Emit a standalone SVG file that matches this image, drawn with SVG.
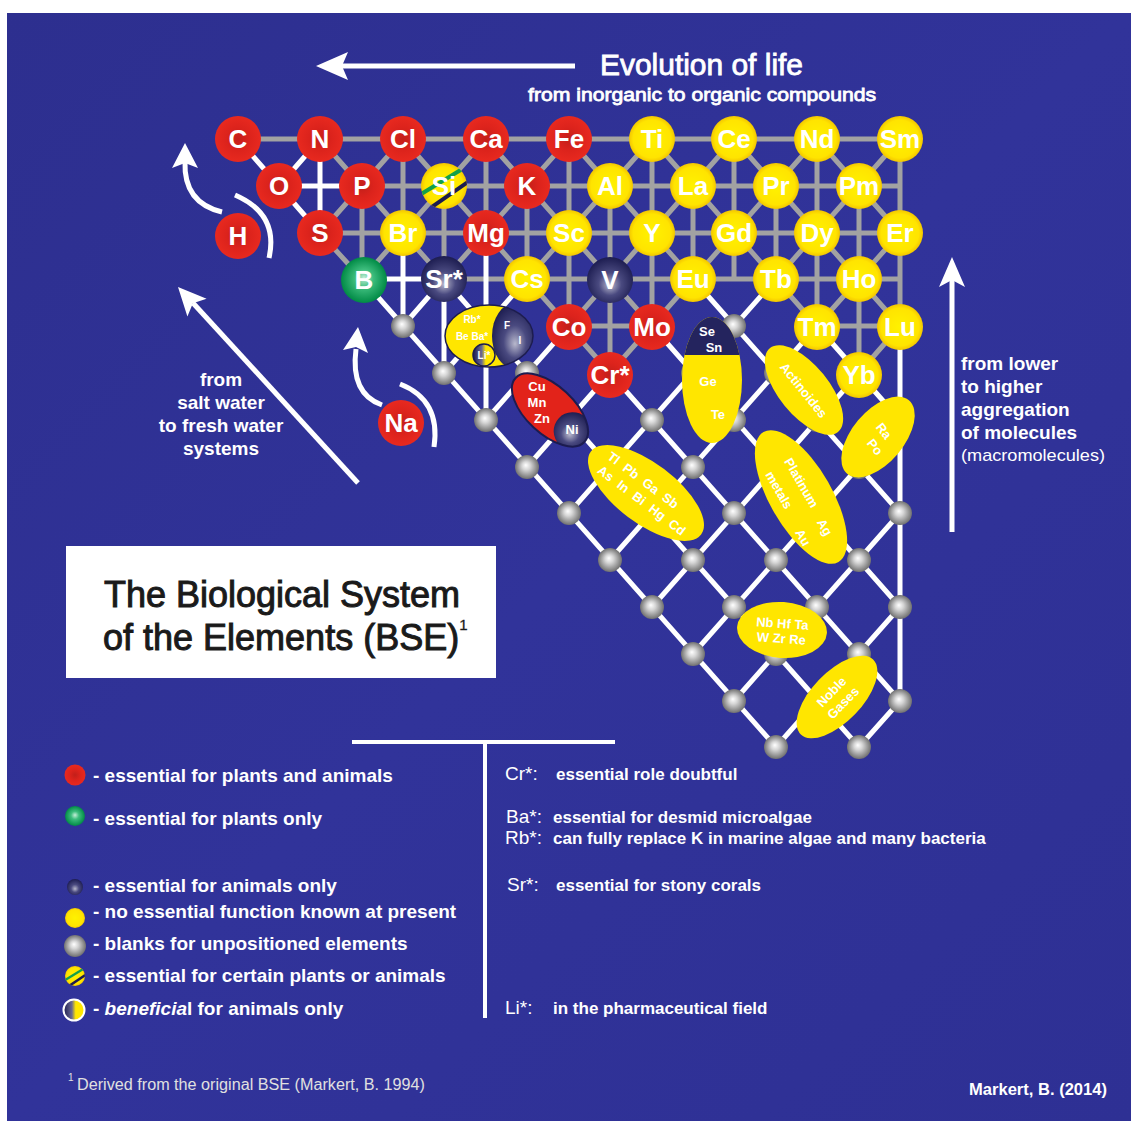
<svg xmlns="http://www.w3.org/2000/svg" width="1138" height="1134" viewBox="0 0 1138 1134">
<defs>
<linearGradient id="gBg" x1="0" y1="0" x2="1" y2="1"><stop offset="0" stop-color="#2d2f8f"/><stop offset="0.5" stop-color="#31339a"/><stop offset="1" stop-color="#2e3094"/></linearGradient>
<radialGradient id="gRed" cx="0.5" cy="0.5" r="0.5"><stop offset="0" stop-color="#c21f1a"/><stop offset="0.5" stop-color="#dc231c"/><stop offset="1" stop-color="#e8291f"/></radialGradient>
<radialGradient id="gYel" cx="0.5" cy="0.5" r="0.5"><stop offset="0" stop-color="#fff200"/><stop offset="0.82" stop-color="#ffe400"/><stop offset="1" stop-color="#f3c600"/></radialGradient>
<radialGradient id="gDark" cx="0.5" cy="0.55" r="0.55" fx="0.5" fy="0.62"><stop offset="0" stop-color="#b8b8cc"/><stop offset="0.45" stop-color="#4a4a80"/><stop offset="1" stop-color="#1c1c50"/></radialGradient>
<radialGradient id="gGreen" cx="0.5" cy="0.5" r="0.5" fx="0.5" fy="0.45"><stop offset="0" stop-color="#c4eed8"/><stop offset="0.4" stop-color="#3dbd7d"/><stop offset="1" stop-color="#008a45"/></radialGradient>
<radialGradient id="gBall" cx="0.5" cy="0.5" r="0.5" fx="0.45" fy="0.42"><stop offset="0" stop-color="#ffffff"/><stop offset="0.35" stop-color="#d6d6d6"/><stop offset="1" stop-color="#707070"/></radialGradient>
<linearGradient id="gBen" x1="0" y1="0" x2="1" y2="0"><stop offset="0" stop-color="#1c1c50"/><stop offset="0.4" stop-color="#6a6a92"/><stop offset="0.58" stop-color="#ffe600"/><stop offset="1" stop-color="#ffe600"/></linearGradient>
<clipPath id="clipSi"><circle cx="444" cy="186" r="23"/></clipPath>
<clipPath id="clipLegSi"><circle cx="75" cy="976" r="10"/></clipPath>
<clipPath id="clipRb"><ellipse cx="489" cy="336" rx="44" ry="31"/></clipPath>
<clipPath id="clipCu"><ellipse cx="0" cy="0" rx="47" ry="24"/></clipPath>
<clipPath id="clipGe"><ellipse cx="712" cy="380" rx="30" ry="63"/></clipPath>
<style>
text{font-family:"Liberation Sans",Arial,sans-serif;fill:#fff}
.ln-g{stroke:#a2a2a2;stroke-width:5;fill:none}
.ln-w{stroke:#fff;stroke-width:5;fill:none}
.el text{font-weight:bold;font-size:26px;text-anchor:middle}
.red circle{fill:url(#gRed)}
.yel circle{fill:url(#gYel)}
.drk circle{fill:url(#gDark)}
.grn circle{fill:url(#gGreen)}
.ball{fill:url(#gBall)}
.yl{fill:#ffe600}
.sm{font-weight:bold;font-size:13px;text-anchor:middle}
.xs{font-weight:bold;font-size:10px;text-anchor:middle}
.side{font-weight:bold;font-size:19px}
.leg{font-weight:bold;font-size:19px}
.note{font-weight:bold;font-size:17px}
.lab{font-size:19px}
.title{font-size:36px;fill:#1a1a1a;stroke:#1a1a1a;stroke-width:1}
.arr{stroke:#fff;stroke-width:5;fill:none}
.head{stroke:#fff;stroke-width:0.8}
</style>
</defs>

<rect width="1138" height="1134" fill="#fff"/>
<rect x="7" y="13" width="1124" height="1108" fill="url(#gBg)"/>

<g id="connectors">
<path class="ln-g" d="M238,139H900M362,186H900M320,233H900M444,279H900M569,326H652M817,326H900"/>
<path class="ln-g" d="M362,186V279M403,139V233M444,186V279M486,139V233M527,186V279M569,139V326M610,186V373M652,139V326M693,186V279M734,139V279M776,186V279M817,139V326M859,186V373M900,139V326"/>
<path class="ln-g" d="M320,233L362,279M320,139L444,279M403,139L610,373M486,139L652,326M569,139L693,279M652,139L817,326M734,139L900,326M817,139L900,233"/>
<path class="ln-g" d="M403,139L320,233M486,139L362,279M569,139L444,279M652,139L527,279M734,139L569,326M817,139L610,373M900,139L776,279M900,233L817,326M900,326L859,373"/>
<path class="ln-w" d="M279,186H362M362,279H444M320,139V233M403,233V326M444,279V373M486,233V420M900,326V701"/>
<path class="ln-w" d="M238,139L320,233M362,279L776,747M444,279L859,747M610,373L900,701M652,326L900,607M693,279L900,513M817,326L900,420"/>
<path class="ln-w" d="M320,139L279,186M444,279L403,326M527,279L444,373M569,326L486,420M610,373L527,467M776,279L569,513M817,326L610,560M859,373L652,607M900,420L693,654M900,513L734,701M900,607L776,747M900,701L859,747"/>
</g>

<g id="blanks">
<circle class="ball" cx="403" cy="326" r="12"/><circle class="ball" cx="486" cy="326" r="12"/><circle class="ball" cx="734" cy="326" r="12"/>
<circle class="ball" cx="444" cy="373" r="12"/><circle class="ball" cx="527" cy="373" r="12"/><circle class="ball" cx="693" cy="373" r="12"/><circle class="ball" cx="776" cy="373" r="12"/>
<circle class="ball" cx="486" cy="420" r="12"/><circle class="ball" cx="569" cy="420" r="12"/><circle class="ball" cx="652" cy="420" r="12"/><circle class="ball" cx="734" cy="420" r="12"/><circle class="ball" cx="817" cy="420" r="12"/><circle class="ball" cx="900" cy="420" r="12"/>
<circle class="ball" cx="527" cy="467" r="12"/><circle class="ball" cx="610" cy="467" r="12"/><circle class="ball" cx="693" cy="467" r="12"/><circle class="ball" cx="776" cy="467" r="12"/><circle class="ball" cx="859" cy="467" r="12"/>
<circle class="ball" cx="569" cy="513" r="12"/><circle class="ball" cx="652" cy="513" r="12"/><circle class="ball" cx="734" cy="513" r="12"/><circle class="ball" cx="817" cy="513" r="12"/><circle class="ball" cx="900" cy="513" r="12"/>
<circle class="ball" cx="610" cy="560" r="12"/><circle class="ball" cx="693" cy="560" r="12"/><circle class="ball" cx="776" cy="560" r="12"/><circle class="ball" cx="859" cy="560" r="12"/>
<circle class="ball" cx="652" cy="607" r="12"/><circle class="ball" cx="734" cy="607" r="12"/><circle class="ball" cx="817" cy="607" r="12"/><circle class="ball" cx="900" cy="607" r="12"/>
<circle class="ball" cx="693" cy="654" r="12"/><circle class="ball" cx="776" cy="654" r="12"/><circle class="ball" cx="859" cy="654" r="12"/>
<circle class="ball" cx="734" cy="701" r="12"/><circle class="ball" cx="817" cy="701" r="12"/><circle class="ball" cx="900" cy="701" r="12"/>
<circle class="ball" cx="776" cy="747" r="12"/><circle class="ball" cx="859" cy="747" r="12"/>
</g>

<g id="grp-RbBeBa">
<ellipse class="yl" cx="489" cy="336" rx="44" ry="31"/>
<g clip-path="url(#clipRb)"><ellipse cx="515" cy="336" rx="23" ry="33" fill="url(#gDark)"/></g>
<ellipse cx="489" cy="336" rx="44" ry="31" fill="none" stroke="#1c1c50" stroke-width="1.5"/>
<circle cx="484" cy="355" r="11" fill="url(#gBen)" stroke="#1c1c50" stroke-width="1.5"/>
<text class="xs" x="472" y="323">Rb*</text><text class="xs" x="472" y="340">Be Ba*</text>
<text class="xs" x="507" y="329">F</text><text class="xs" x="520" y="344">I</text>
<text class="xs" x="484" y="359">Li*</text>
</g>

<g id="grp-CuMnZnNi">
<g transform="translate(550,410) rotate(43)">
<ellipse rx="47" ry="24" fill="#e2231a"/>
<g clip-path="url(#clipCu)"><circle cx="31" cy="0" r="19" fill="url(#gDark)"/></g>
<ellipse rx="47" ry="24" fill="none" stroke="#1c1c50" stroke-width="2"/>
</g>
<text class="sm" x="537" y="391" font-size="12">Cu</text><text class="sm" x="537" y="407">Mn</text><text class="sm" x="542" y="423">Zn</text><text class="sm" x="572" y="434">Ni</text>
</g>

<g id="grp-SeSnGeTe">
<ellipse class="yl" cx="712" cy="380" rx="30" ry="63"/>
<g clip-path="url(#clipGe)"><rect x="680" y="315" width="64" height="40" fill="#24245e"/></g>
<text class="sm" x="707" y="336" font-size="12">Se</text><text class="sm" x="714" y="352">Sn</text>
<text class="sm" x="708" y="386">Ge</text><text class="sm" x="718" y="419">Te</text>
</g>

<g id="grp-Actinoides" transform="translate(804,390) rotate(51)">
<ellipse class="yl" rx="54" ry="25"/>
<text class="sm" x="0" y="5" font-size="14">Actinoides</text>
</g>

<g id="grp-RaPo">
<ellipse class="yl" cx="878" cy="437" rx="48" ry="26" transform="rotate(-50 878 437)"/>
<text class="sm" transform="translate(884,431) rotate(52)" y="4.5">Ra</text>
<text class="sm" transform="translate(875,447) rotate(52)" y="4.5">Po</text>
</g>

<g id="grp-TlPb" transform="translate(646,493) rotate(37)">
<ellipse class="yl" rx="69" ry="30"/>
<text class="sm" x="-10" y="-4" word-spacing="4">Tl Pb Ga Sb</text>
<text class="sm" x="1" y="13" word-spacing="4">As In Bi Hg Cd</text>
</g>

<g id="grp-Platinum" transform="translate(801,497) rotate(60)">
<ellipse class="yl" rx="75" ry="31"/>
<text class="sm" x="-12" y="-3">Platinum</text>
<text class="sm" x="38" y="-1">Ag</text>
<text class="sm" x="-17" y="20">metals</text>
<text class="sm" x="36" y="23">Au</text>
</g>

<g id="grp-NbHf" transform="translate(782,630) rotate(4)">
<ellipse class="yl" rx="45" ry="28"/>
<text class="sm" x="0" y="-2">Nb Hf Ta</text>
<text class="sm" x="0" y="13">W Zr Re</text>
</g>

<g id="grp-Noble" transform="translate(837,697) rotate(-46)">
<ellipse class="yl" rx="52" ry="25"/>
<text class="sm" x="0" y="-3">Noble</text>
<text class="sm" x="0" y="13">Gases</text>
</g>

<g id="elements">
<g id="el-C" class="el red"><circle cx="238" cy="139" r="23"/><text x="238" y="148">C</text></g>
<g id="el-N" class="el red"><circle cx="320" cy="139" r="23"/><text x="320" y="148">N</text></g>
<g id="el-Cl" class="el red"><circle cx="403" cy="139" r="23"/><text x="403" y="148">Cl</text></g>
<g id="el-Ca" class="el red"><circle cx="486" cy="139" r="23"/><text x="486" y="148">Ca</text></g>
<g id="el-Fe" class="el red"><circle cx="569" cy="139" r="23"/><text x="569" y="148">Fe</text></g>
<g id="el-Ti" class="el yel"><circle cx="652" cy="139" r="23"/><text x="652" y="148">Ti</text></g>
<g id="el-Ce" class="el yel"><circle cx="734" cy="139" r="23"/><text x="734" y="148">Ce</text></g>
<g id="el-Nd" class="el yel"><circle cx="817" cy="139" r="23"/><text x="817" y="148">Nd</text></g>
<g id="el-Sm" class="el yel"><circle cx="900" cy="139" r="23"/><text x="900" y="148">Sm</text></g>
<g id="el-O" class="el red"><circle cx="279" cy="186" r="23"/><text x="279" y="195">O</text></g>
<g id="el-P" class="el red"><circle cx="362" cy="186" r="23"/><text x="362" y="195">P</text></g>
<g id="el-Si" class="el yel"><circle cx="444" cy="186" r="23"/>
<g clip-path="url(#clipSi)"><line x1="418" y1="196" x2="472" y2="163" stroke="#13a04a" stroke-width="4"/><line x1="426" y1="211" x2="478" y2="175" stroke="#1c1c50" stroke-width="4"/></g>
<text x="444" y="195">Si</text></g>
<g id="el-K" class="el red"><circle cx="527" cy="186" r="23"/><text x="527" y="195">K</text></g>
<g id="el-Al" class="el yel"><circle cx="610" cy="186" r="23"/><text x="610" y="195">Al</text></g>
<g id="el-La" class="el yel"><circle cx="693" cy="186" r="23"/><text x="693" y="195">La</text></g>
<g id="el-Pr" class="el yel"><circle cx="776" cy="186" r="23"/><text x="776" y="195">Pr</text></g>
<g id="el-Pm" class="el yel"><circle cx="859" cy="186" r="23"/><text x="859" y="195">Pm</text></g>
<g id="el-H" class="el red"><circle cx="238" cy="236" r="23"/><text x="238" y="245">H</text></g>
<g id="el-S" class="el red"><circle cx="320" cy="233" r="23"/><text x="320" y="242">S</text></g>
<g id="el-Br" class="el yel"><circle cx="403" cy="233" r="23"/><text x="403" y="242">Br</text></g>
<g id="el-Mg" class="el red"><circle cx="486" cy="233" r="23"/><text x="486" y="242">Mg</text></g>
<g id="el-Sc" class="el yel"><circle cx="569" cy="233" r="23"/><text x="569" y="242">Sc</text></g>
<g id="el-Y" class="el yel"><circle cx="652" cy="233" r="23"/><text x="652" y="242">Y</text></g>
<g id="el-Gd" class="el yel"><circle cx="734" cy="233" r="23"/><text x="734" y="242">Gd</text></g>
<g id="el-Dy" class="el yel"><circle cx="817" cy="233" r="23"/><text x="817" y="242">Dy</text></g>
<g id="el-Er" class="el yel"><circle cx="900" cy="233" r="23"/><text x="900" y="242">Er</text></g>
<g id="el-B" class="el grn"><circle cx="364" cy="280" r="23"/><text x="364" y="289">B</text></g>
<g id="el-Sr" class="el drk"><circle cx="444" cy="279" r="23"/><text x="444" y="288" font-size="24">Sr*</text></g>
<g id="el-Cs" class="el yel"><circle cx="527" cy="279" r="23"/><text x="527" y="288">Cs</text></g>
<g id="el-V" class="el drk"><circle cx="610" cy="280" r="23"/><text x="610" y="289">V</text></g>
<g id="el-Eu" class="el yel"><circle cx="693" cy="279" r="23"/><text x="693" y="288">Eu</text></g>
<g id="el-Tb" class="el yel"><circle cx="776" cy="279" r="23"/><text x="776" y="288">Tb</text></g>
<g id="el-Ho" class="el yel"><circle cx="859" cy="279" r="23"/><text x="859" y="288">Ho</text></g>
<g id="el-Co" class="el red"><circle cx="569" cy="327" r="23"/><text x="569" y="336">Co</text></g>
<g id="el-Mo" class="el red"><circle cx="652" cy="327" r="23"/><text x="652" y="336">Mo</text></g>
<g id="el-Tm" class="el yel"><circle cx="817" cy="327" r="23"/><text x="817" y="336">Tm</text></g>
<g id="el-Lu" class="el yel"><circle cx="900" cy="327" r="23"/><text x="900" y="336">Lu</text></g>
<g id="el-Cr" class="el red"><circle cx="610" cy="375" r="23"/><text x="610" y="384">Cr*</text></g>
<g id="el-Yb" class="el yel"><circle cx="859" cy="375" r="23"/><text x="859" y="384">Yb</text></g>
<g id="el-Na" class="el red"><circle cx="401" cy="423" r="23"/><text x="401" y="432">Na</text></g>
</g>

<g id="arrows">
<path class="arr" d="M575,66H335" stroke-width="6"/>
<polygon points="316,66 348,52 342,66 348,80" fill="#fff"/>
<path class="arr" d="M952,532V276"/>
<polygon points="952,257 965,287 952,280 939,287" fill="#fff"/>
<path class="arr" d="M358,483L193,303"/>
<polygon points="178,287 206.6,298.8 192.9,303.2 187.4,316.4" fill="#fff"/>
<path class="arr" d="M222,212C197,206 184,190 185,162"/>
<polygon points="185,143 198,168 185,163 172,168" fill="#fff"/>
<path class="arr" d="M235,195Q279,214 269,258"/>
<path class="arr" d="M382,405C362,398 352,380 356,349"/>
<polygon points="358,327 368,353 356,347 343,350" fill="#fff"/>
<path class="arr" d="M400,384Q441,400 434,447"/>
</g>

<g id="headings">
<text class="head" x="600" y="75" font-size="29" textLength="203" lengthAdjust="spacingAndGlyphs">Evolution of life</text>
<text class="head" x="528" y="101" font-size="19" stroke-width="0.4" textLength="348" lengthAdjust="spacingAndGlyphs">from inorganic to organic compounds</text>
<text class="side" x="961" y="370">from lower</text>
<text class="side" x="961" y="393">to higher</text>
<text class="side" x="961" y="416">aggregation</text>
<text class="side" x="961" y="439">of molecules</text>
<text x="961" y="461" font-size="17" textLength="144" lengthAdjust="spacingAndGlyphs">(macromolecules)</text>
<text class="side" x="221" y="386" text-anchor="middle">from</text>
<text class="side" x="221" y="409" text-anchor="middle">salt water</text>
<text class="side" x="221" y="432" text-anchor="middle">to fresh water</text>
<text class="side" x="221" y="455" text-anchor="middle">systems</text>
</g>

<g id="title">
<rect x="66" y="546" width="430" height="132" fill="#fff"/>
<text class="title" x="282" y="607" text-anchor="middle">The Biological System</text>
<text class="title" x="103" y="650">of the Elements (BSE)<tspan font-size="15" dy="-20" stroke-width="0.3">1</tspan></text>
</g>

<g id="legend">
<path d="M352,742H615M485,742V1018" stroke="#fff" stroke-width="4" fill="none"/>
<circle cx="75" cy="775" r="10.5" fill="url(#gRed)"/>
<text class="leg" x="93" y="782">- essential for plants and animals</text>
<circle cx="75" cy="816" r="10" fill="url(#gGreen)"/>
<text class="leg" x="93" y="825">- essential for plants only</text>
<circle cx="75" cy="887" r="8" fill="url(#gDark)"/>
<text class="leg" x="93" y="892">- essential for animals only</text>
<circle cx="75" cy="918" r="10" fill="url(#gYel)"/>
<text class="leg" x="93" y="918">- no essential function known at present</text>
<circle cx="75" cy="946" r="11" fill="url(#gBall)"/>
<text class="leg" x="93" y="950">- blanks for unpositioned elements</text>
<circle cx="75" cy="976" r="10" fill="url(#gYel)"/>
<g clip-path="url(#clipLegSi)"><line x1="62" y1="982" x2="88" y2="966" stroke="#13a04a" stroke-width="2.5"/><line x1="66" y1="988" x2="90" y2="972" stroke="#1c1c50" stroke-width="2.5"/></g>
<text class="leg" x="93" y="982">- essential for certain plants or animals</text>
<circle cx="74" cy="1010" r="10.5" fill="url(#gBen)" stroke="#fff" stroke-width="2"/>
<text class="leg" x="93" y="1015">- <tspan font-style="italic">beneficia</tspan>l for animals only</text>

<text class="lab" x="505" y="780">Cr*:</text><text class="note" x="556" y="780">essential role doubtful</text>
<text class="lab" x="506" y="823">Ba*:</text><text class="note" x="553" y="823">essential for desmid microalgae</text>
<text class="lab" x="505" y="844">Rb*:</text><text class="note" x="553" y="844">can fully replace K in marine algae and many bacteria</text>
<text class="lab" x="507" y="891">Sr*:</text><text class="note" x="556" y="891">essential for stony corals</text>
<text class="lab" x="505" y="1014">Li*:</text><text class="note" x="553" y="1014">in the pharmaceutical field</text>
</g>

<g id="footer">
<text x="68" y="1081" font-size="10" style="fill:#e0e0e0">1</text>
<text x="77" y="1090" font-size="16" style="fill:#e0e0e0" textLength="348" lengthAdjust="spacingAndGlyphs">Derived from the original BSE (Markert, B. 1994)</text>
<text x="969" y="1095" font-size="16" font-weight="bold" textLength="138" lengthAdjust="spacingAndGlyphs">Markert, B. (2014)</text>
</g>
</svg>
